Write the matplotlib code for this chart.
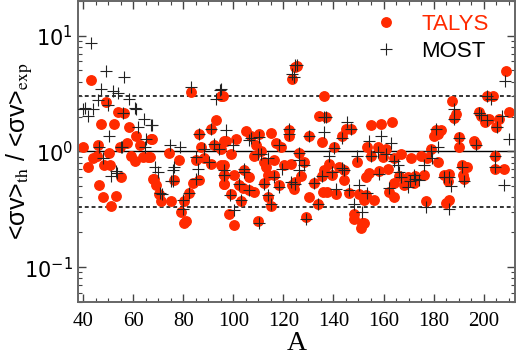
import numpy as np
import matplotlib
matplotlib.use("Agg")
import matplotlib.pyplot as plt
from matplotlib.ticker import MultipleLocator, LogLocator, NullFormatter

plt.rcParams['mathtext.fontset'] = 'stix'

# TALYS ratios <sv>_th / <sv>_exp versus mass number A
talys_A = [43.1, 49.3, 53.9, 56.3, 47.0, 52.2, 58.1, 61.2, 66.9, 40.0, 46.0, 57.6, 54.6, 62.5,
           50.2, 45.7, 44.0, 59.2, 60.5, 63.8, 65.8, 42.0, 48.3, 50.6, 55.0, 67.8, 46.2, 47.9,
           53.2, 51.2,
           83.2, 95.1, 93.1, 91.1, 86.4, 67.3, 96.4, 87.1, 92.4, 74.3, 66.6, 78.2, 85.1, 88.4,
           91.1, 95.1, 68.2, 76.1, 86.2, 96.4, 69.2, 83.8, 96.4, 70.3, 82.2, 71.2, 75.2, 80.2,
           79.2, 81.2, 80.1,
           124.5, 123.6, 95.8, 105.1, 97.1, 101.1, 107.1, 110.4, 115.0, 122.3, 122.3, 109.1,
           117.0, 119.0, 111.1, 95.2, 99.2, 108.1, 112.4, 116.3, 120.3, 123.0, 96.2, 113.0,
           104.2, 106.4, 100.2, 113.7, 116.3, 96.2, 96.2, 102.4, 112.1, 118.3, 123.6, 103.8,
           106.4, 108.4, 99.2, 113.7, 115.0, 103.1, 98.1, 100.2, 110.0,
           125.3, 136.1, 134.3, 137.0, 146.9, 144.9, 143.3, 130.1, 135.4, 140.3, 126.4, 149.3,
           128.3, 138.3, 142.3, 144.3, 136.3, 127.0, 135.4, 139.4, 144.3, 124.8, 132.4, 124.4,
           135.7, 141.0, 137.4, 146.2, 150.2, 130.1, 133.7, 152.2, 148.2, 148.2, 129.0, 151.5,
           150.9, 153.1, 153.5,
           155.0, 158.9, 163.2, 180.8, 180.1, 157.6, 160.9, 178.8, 155.0, 159.6, 164.2, 166.8,
           171.0, 175.0, 177.3, 161.9, 158.3, 154.3, 166.2, 169.6, 172.5, 176.2, 164.2, 168.2,
           172.3, 162.3, 164.2, 156.3, 153.0, 176.8, 152.3,
           209.1, 201.4, 203.6, 187.2, 189.0, 188.1, 210.0, 198.1, 198.8, 202.1, 206.1, 200.6,
           205.0, 182.9, 181.6, 190.0, 190.0, 196.2, 197.1, 204.4, 204.4, 208.3, 191.2, 193.5,
           184.2, 186.2, 185.9, 191.7, 192.1, 186.2, 184.9, 181.6]
talys_r = [4.1, 2.66, 2.18, 2.13, 1.71, 1.71, 1.61, 1.35, 1.27, 1.10, 1.13, 1.18, 1.08, 1.13,
           0.97, 0.91, 0.87, 0.92, 0.82, 0.89, 0.89, 0.73, 0.76, 0.76, 0.60, 0.58, 0.51, 0.40,
           0.41, 0.34,
           3.24, 3.0, 1.88, 1.57, 1.42, 1.29, 1.24, 1.09, 1.13, 0.97, 0.89, 0.85, 0.85, 0.87,
           0.78, 0.76, 0.58, 0.57, 0.57, 0.62, 0.51, 0.53, 0.52, 0.43, 0.44, 0.37, 0.37, 0.37,
           0.30, 0.25, 0.24,
           5.4, 4.24, 2.98, 1.5, 1.24, 1.29, 1.37, 1.40, 1.44, 1.54, 1.37, 1.13,
           1.18, 1.09, 1.0, 1.05, 0.94, 0.91, 0.81, 0.84, 0.77, 0.78, 0.76, 0.73,
           0.69, 0.60, 0.62, 0.62, 0.63, 0.63, 0.52, 0.51, 0.53, 0.51, 0.51, 0.48,
           0.46, 0.45, 0.43, 0.40, 0.34, 0.37, 0.29, 0.23, 0.25,
           5.5, 2.99, 2.04, 2.0, 1.57, 1.55, 1.35, 1.35, 1.20, 1.08, 0.97, 0.81,
           0.81, 0.78, 0.74, 0.69, 0.69, 0.61, 0.61, 0.63, 0.57, 0.54, 0.53, 0.47,
           0.45, 0.43, 0.45, 0.44, 0.43, 0.40, 0.35, 0.38, 0.29, 0.26, 0.27, 0.24,
           0.22, 0.60, 1.09,
           1.68, 1.71, 1.79, 1.52, 1.35, 1.08, 1.05, 1.05, 0.92, 0.89, 0.87, 0.95,
           0.87, 0.91, 0.87, 0.71, 0.68, 0.65, 0.61, 0.60, 0.61, 0.62, 0.53, 0.51,
           0.53, 0.45, 0.40, 0.38, 0.42, 0.37, 0.24,
           4.99, 2.99, 2.98, 2.72, 2.11, 1.95, 2.18, 2.18, 2.04, 1.91, 1.91, 1.79,
           1.62, 1.54, 1.42, 1.33, 1.10, 1.24, 1.16, 0.91, 0.71, 0.71, 0.76, 0.73,
           0.62, 0.64, 0.56, 0.63, 0.58, 0.38, 0.36, 0.81]

# MOST ratios
most_A = [43.1, 49.3, 56.2, 47.0, 51.9, 53.9, 58.1, 46.0, 49.9, 40.0, 44.0, 42.0, 61.2, 55.9,
          64.2, 67.1, 61.8, 50.2, 65.1, 46.2, 55.2, 64.5, 47.9, 53.2, 51.2, 40.8, 60.6, 55.5,
          53.5, 75.7, 71.4, 75.7,
          83.2, 94.7, 93.1, 67.3, 86.4, 74.5, 78.5, 85.1, 88.4, 92.4, 94.4, 90.4, 68.6, 69.9,
          76.1, 75.2, 85.1, 85.7, 96.4, 70.8, 82.2, 79.8, 79.8, 91.1,
          95.2, 123.6, 124.5, 97.1, 106.4, 99.8, 122.3, 122.3, 118.3, 109.7, 113.7, 96.2,
          123.0, 98.5, 106.4, 113.7, 100.2, 110.4, 119.6, 104.4, 107.1, 110.4, 115.0, 102.4,
          118.3, 111.1, 104.2, 103.1, 112.1, 116.3,
          125.3, 124.4, 136.1, 137.0, 136.3, 145.3, 146.9, 130.1, 149.6, 138.3, 143.6, 150.2,
          148.2, 151.5, 129.0, 126.4, 126.4, 126.4, 128.3, 135.4, 139.4, 124.8, 132.4, 140.3,
          144.3, 141.0, 146.2, 133.7, 143.3,
          158.9, 162.8, 154.3, 165.7, 169.6, 174.3, 176.2, 179.5, 153.6, 176.8, 155.0, 157.6,
          160.9, 164.2, 166.8, 170.4, 172.5, 172.0, 162.3, 180.8, 178.8, 166.2, 158.3,
          208.6, 203.0, 207.2, 210.0, 204.4, 208.3, 186.9, 192.1, 181.6, 188.1, 205.4, 198.1,
          199.0, 201.4, 191.2, 186.2, 184.2, 186.2, 204.4, 188.1, 197.1, 190.0, 201.4]
most_r = [8.65, 4.92, 4.37, 3.47, 3.31, 3.18, 2.81, 2.8, 2.49, 2.30, 2.33, 2.04, 2.33, 2.14,
          1.91, 1.68, 1.62, 1.37, 1.29, 1.09, 1.09, 1.08, 0.87, 0.68, 0.61, 2.35, 2.35, 1.08,
          0.65, 0.69, 0.43, 0.56,
          3.58, 3.36, 2.85, 1.68, 1.42, 1.13, 1.09, 0.89, 1.05, 1.16, 1.05, 0.81, 0.73, 0.66,
          0.73, 0.56, 0.58, 0.71, 0.69, 0.44, 0.44, 0.38, 0.32, 1.57,
          3.47, 4.67, 5.6, 1.52, 1.26, 1.13, 1.57, 1.40, 1.13, 0.95, 0.87, 0.63,
          0.54, 0.42, 0.46, 0.42, 0.31, 0.24, 0.71, 0.66, 1.30, 1.33, 0.35, 0.52,
          0.49, 0.95, 0.71, 0.38, 0.52, 0.60,
          5.6, 4.4, 2.0, 1.97, 1.47, 1.79, 1.55, 1.35, 0.92, 0.92, 0.72, 0.51,
          0.35, 0.30, 0.26, 0.84, 0.69, 0.97, 0.77, 0.61, 0.66, 0.52, 0.53, 1.06,
          0.69, 0.47, 0.46, 0.35, 1.30,
          1.35, 1.18, 1.24, 0.76, 0.49, 0.57, 0.76, 0.87, 0.44, 0.33, 0.92, 0.98,
          0.95, 0.82, 0.60, 0.55, 0.58, 0.62, 0.48, 1.55, 1.0, 0.66, 0.64,
          4.09, 2.84, 2.04, 1.29, 0.73, 0.51, 0.50, 0.55, 1.09, 1.89, 1.62, 2.15,
          2.05, 1.85, 0.74, 0.60, 0.60, 0.32, 0.91, 2.3, 1.14, 1.30, 2.99]

red = '#ff2a00'

fig = plt.figure(figsize=(5.18, 3.57), dpi=100)
ax = fig.add_axes([0.151, 0.154, 0.843, 0.844])

# reference lines
ax.axhline(1.0, color='black', lw=1.0, zorder=1)
ax.axhline(3.0, color='#333333', lw=1.4, ls=(0, (2, 1.5)), zorder=1)
ax.axhline(1/3., color='#333333', lw=1.4, ls=(0, (2, 1.5)), zorder=1)

ax.plot(talys_A, talys_r, 'o', color=red, ms=6.8, mec=red, label='TALYS', zorder=2)
ax.plot(most_A, most_r, '+', color='#222222', ms=9, mew=0.8, label='MOST', zorder=3)

ax.set_yscale('log')
ax.set_xlim(38, 212.5)
ax.set_ylim(0.05, 20)

ax.xaxis.set_major_locator(MultipleLocator(20))
ax.xaxis.set_minor_locator(MultipleLocator(5))
ax.yaxis.set_major_locator(LogLocator(base=10))
ax.yaxis.set_minor_locator(LogLocator(base=10, subs=np.arange(2, 10)))
ax.yaxis.set_minor_formatter(NullFormatter())

ax.tick_params(which='both', direction='in', top=True, right=True, colors='#444444',
               labelcolor='black')
ax.tick_params(which='major', length=6, width=1.0)
ax.tick_params(which='minor', length=3, width=0.8)
ax.tick_params(axis='x', labelsize=15, pad=7)
ax.tick_params(axis='y', labelsize=15, pad=4)
for lab in ax.get_xticklabels():
    lab.set_fontfamily('Liberation Serif')

for sp in ax.spines.values():
    sp.set_color('#666666')
    sp.set_linewidth(1.4)

ax.set_xlabel('A', fontsize=20, family='Liberation Serif', labelpad=0)
ax.set_ylabel(r'<σv>$_{\mathrm{th}}$ / <σv>$_{\mathrm{exp}}$', fontsize=18,
              family='Liberation Sans')
ax.yaxis.set_label_coords(-0.098, 0.5)

leg = ax.legend(loc='upper right', frameon=False, handletextpad=0.6,
                borderaxespad=0.2, labelspacing=0.25, bbox_to_anchor=(0.97, 1.0),
                prop={'family': 'Liberation Sans', 'size': 16})
leg.get_texts()[0].set_color(red)
leg.get_texts()[1].set_color('black')

fig.savefig('out.png', dpi=100)
